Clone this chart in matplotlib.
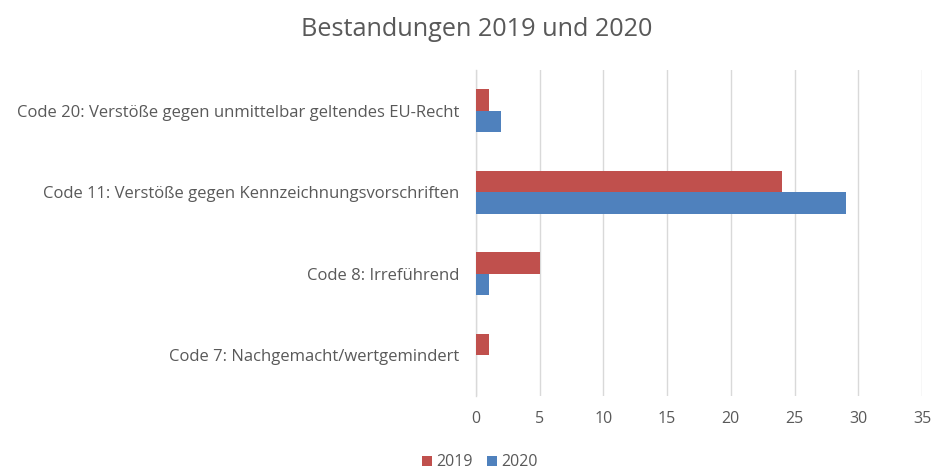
import matplotlib
matplotlib.use("Agg")
import matplotlib.pyplot as plt
import numpy as np

plt.rcParams['font.family'] = ['Open Sans', 'DejaVu Sans']

categories = [
    "Code 20: Verstöße gegen unmittelbar geltendes EU-Recht",
    "Code 11: Verstöße gegen Kennzeichnungsvorschriften",
    "Code 8: Irreführend",
    "Code 7: Nachgemacht/wertgemindert",
]
values_2019 = [1, 24, 5, 1]
values_2020 = [2, 29, 1, 0]
series_labels = ["2019", "2020"]
x_ticks = [0, 5, 10, 15, 20, 25, 30, 35]

color_2019 = "#C0504D"
color_2020 = "#4F81BD"
text_color = "#595959"
grid_color = "#D9D9D9"

fig = plt.figure(figsize=(9.32, 4.70), dpi=100)
ax = fig.add_axes([0.5107, 0.1574, 0.4786, 0.6936])

y = np.arange(len(categories))
h = 0.265
ax.barh(y - h / 2, values_2019, height=h, color=color_2019, label=series_labels[0], zorder=3)
ax.barh(y + h / 2, values_2020, height=h, color=color_2020, label=series_labels[1], zorder=3)

ax.set_ylim(len(categories) - 0.5, -0.5)
ax.set_xlim(0, 35)
ax.set_xticks(x_ticks)
ax.set_yticks(y)
ax.set_yticklabels(categories, fontsize=12, color=text_color)
ax.tick_params(axis='x', colors=text_color, labelsize=11.5, length=0, pad=11)
ax.tick_params(axis='y', length=0, pad=12)
ax.xaxis.grid(True, color=grid_color, linewidth=1, zorder=0)
for side in ["top", "right", "bottom"]:
    ax.spines[side].set_visible(False)
ax.spines["left"].set_color(grid_color)
ax.spines["left"].set_linewidth(1)

fig.text(0.512, 0.938, "Bestandungen 2019 und 2020", ha="center", va="center",
         fontsize=18.2, color=text_color)

handles, labels = ax.get_legend_handles_labels()
fig.legend(handles, labels, loc="center", bbox_to_anchor=(0.515, 0.016), ncol=2,
           frameon=False, fontsize=11.5, labelcolor=text_color,
           handlelength=0.6, handleheight=0.6, handletextpad=0.3, columnspacing=0.9,
           borderpad=0.1)

fig.savefig("out.png", dpi=100, facecolor="white")
